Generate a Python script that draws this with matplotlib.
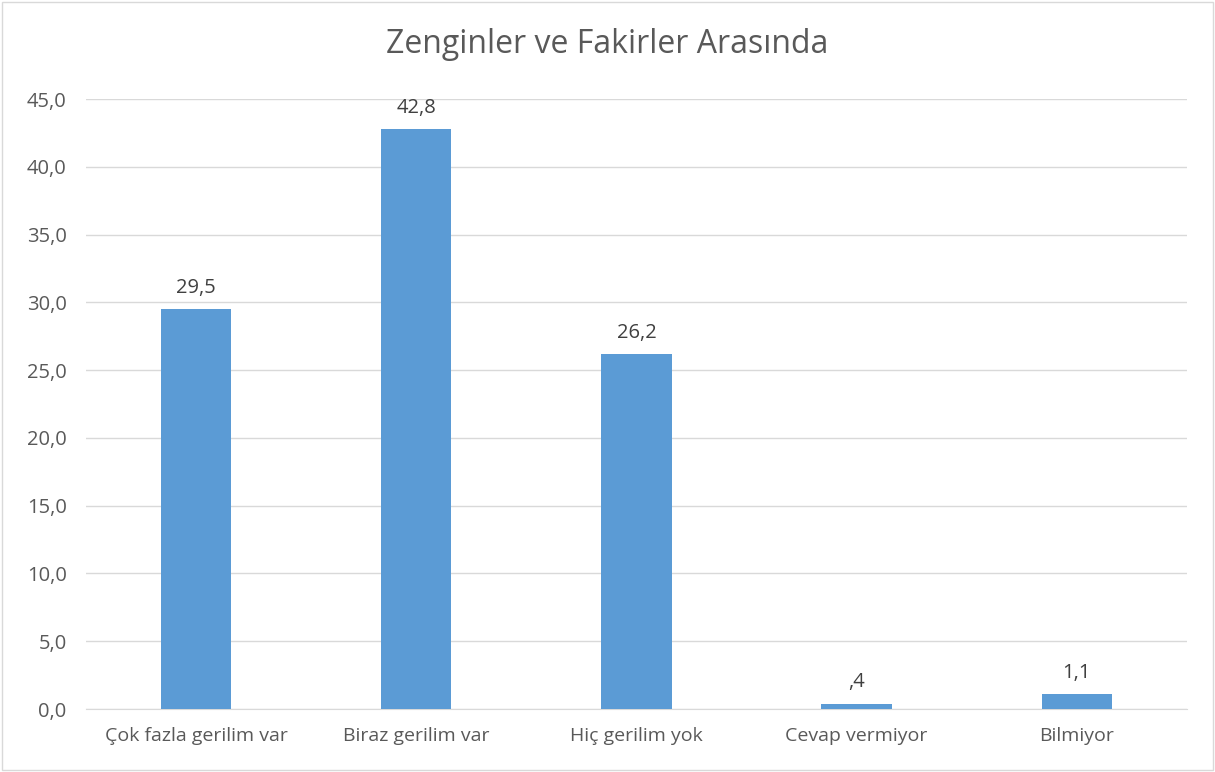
import matplotlib.pyplot as plt
from matplotlib.patches import Rectangle

categories = ["Çok fazla gerilim var", "Biraz gerilim var", "Hiç gerilim yok",
              "Cevap vermiyor", "Bilmiyor"]
values = [29.5, 42.8, 26.2, 0.4, 1.1]
yticks = [0, 5, 10, 15, 20, 25, 30, 35, 40, 45]

plt.rcParams['font.family'] = ['Open Sans', 'DejaVu Sans']
text_color = '#595959'


def fmt(v):
    s = f"{v:.1f}".replace('.', ',')
    # SPSS style: drop the leading zero
    if s.startswith('0,') and v != 0:
        s = s[1:]
    return s


fig = plt.figure(figsize=(12.15, 7.72), dpi=100)
ax = fig.add_axes([0.0708, 0.0816, 0.906, 0.790])

x = range(len(categories))
ax.bar(x, values, width=0.32, color='#5B9BD5', zorder=3)
for i, v in zip(x, values):
    ax.annotate(fmt(v), (i, v), xytext=(0, 8), textcoords='offset points',
                ha='center', va='bottom', fontsize=14.5, color='#404040')

ax.set_xlim(-0.5, len(categories) - 0.5)
ax.set_ylim(0, 45)
ax.set_yticks(yticks)
ax.set_yticklabels([f"{t:.1f}".replace('.', ',') for t in yticks])
ax.set_xticks(list(x))
ax.set_xticklabels(categories)
ax.tick_params(axis='x', length=0, labelsize=14, colors=text_color, pad=13)
ax.tick_params(axis='y', length=0, labelsize=14.5, colors=text_color, pad=14)
ax.grid(axis='y', color='#D9D9D9', linewidth=1, zorder=0)
for s in ['top', 'right', 'left']:
    ax.spines[s].set_visible(False)
ax.spines['bottom'].set_color('#D9D9D9')

fig.text(0.5, 0.942, "Zenginler ve Fakirler Arasında", ha='center', va='center',
         fontsize=23, color=text_color)

fig.patches.append(Rectangle((0.002, 0.002), 0.996, 0.996, transform=fig.transFigure,
                             fill=False, edgecolor='#D9D9D9', linewidth=1))

fig.savefig('out.png', dpi=100)
